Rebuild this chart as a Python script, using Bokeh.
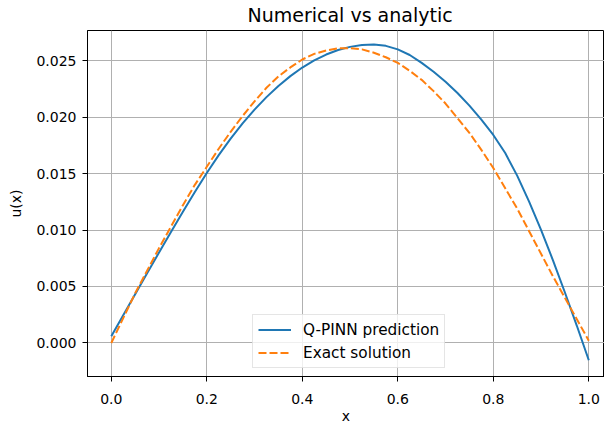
from bokeh.plotting import figure
from bokeh.models import FixedTicker, NumeralTickFormatter, Range1d, LinearAxis
from bokeh.embed import file_html
from bokeh.resources import INLINE

# ---- data ----
x_vals = [0.000, 0.025, 0.050, 0.075, 0.100, 0.125, 0.150, 0.175, 0.200, 0.225,
          0.250, 0.275, 0.300, 0.325, 0.350, 0.375, 0.400, 0.425, 0.450, 0.475,
          0.500, 0.525, 0.550, 0.575, 0.600, 0.625, 0.650, 0.675, 0.700, 0.725,
          0.750, 0.775, 0.800, 0.825, 0.850, 0.875, 0.900, 0.925, 0.950, 0.975, 1.000]
qpinn_pred = [0.00060, 0.00246, 0.00432, 0.00617, 0.00801, 0.00983, 0.01162, 0.01337, 0.01505, 0.01663,
              0.01809, 0.01944, 0.02066, 0.02177, 0.02276, 0.02363, 0.02439, 0.02502, 0.02554, 0.02594,
              0.02622, 0.02639, 0.02643, 0.02631, 0.02600, 0.02550, 0.02480, 0.02402, 0.02314, 0.02214,
              0.02102, 0.01977, 0.01842, 0.01682, 0.01482, 0.01252, 0.01002, 0.00732, 0.00447, 0.00152, -0.00153]
exact_sol = [0.0000, 0.0022, 0.0044, 0.0064, 0.0084, 0.0103, 0.0122, 0.0140, 0.0156, 0.0172,
             0.0187, 0.0201, 0.0214, 0.0226, 0.0236, 0.0244, 0.0251, 0.0256, 0.0259, 0.0261,
             0.0261, 0.0260, 0.0257, 0.0253, 0.0248, 0.0241, 0.0233, 0.0223, 0.0212, 0.0199,
             0.0186, 0.0171, 0.0155, 0.0137, 0.0119, 0.0099, 0.0079, 0.0059, 0.0040, 0.0021, 0.0002]
x_ticks = [0.0, 0.2, 0.4, 0.6, 0.8, 1.0]
y_ticks = [0.000, 0.005, 0.010, 0.015, 0.020, 0.025]
title_text = "Numerical vs analytic"
title_at = 0.5   # the title is centred over the middle of the axes

FONT = "DejaVu Sans"

p = figure(width=604, height=426, output_backend="svg", toolbar_location=None,
           x_range=Range1d(-0.0498, 1.0329), y_range=Range1d(-0.00297, 0.02767),
           min_border_left=87, min_border_right=0, min_border_top=28, min_border_bottom=50)

p.line(x_vals, qpinn_pred, line_color="#1f77b4", line_width=2, legend_label="Q-PINN prediction")
p.line(x_vals, exact_sol, line_color="#ff7f0e", line_width=2, line_dash="8 3", legend_label="Exact solution")

bottom_axis = p.below[0]
left_axis = p.left[0]

for ax in (bottom_axis, left_axis):
    ax.major_label_text_font = FONT
    ax.major_label_text_font_size = "14px"
    ax.major_label_text_color = "#000000"
    ax.axis_label_text_font = FONT
    ax.axis_label_text_font_size = "14px"
    ax.axis_label_text_font_style = "normal"
    ax.axis_label_text_color = "#000000"
    ax.major_tick_out = 5
    ax.major_tick_in = 0
    ax.minor_tick_out = 0
    ax.minor_tick_in = 0
    ax.axis_line_color = "#000000"
    ax.major_tick_line_color = "#000000"

bottom_axis.axis_label = "x"
left_axis.axis_label = "u(x)"
bottom_axis.major_label_standoff = 12
left_axis.major_label_standoff = 6
bottom_axis.axis_label_standoff = 1
left_axis.axis_label_standoff = 9
bottom_axis.ticker = FixedTicker(ticks=x_ticks)
left_axis.ticker = FixedTicker(ticks=y_ticks)
bottom_axis.formatter = NumeralTickFormatter(format="0.0")
left_axis.formatter = NumeralTickFormatter(format="0.000")

p.xgrid[0].ticker = FixedTicker(ticks=x_ticks)
p.ygrid[0].ticker = FixedTicker(ticks=y_ticks)
p.xgrid[0].grid_line_color = "#b0b0b0"
p.ygrid[0].grid_line_color = "#b0b0b0"
p.xgrid[0].grid_line_width = 1
p.ygrid[0].grid_line_width = 1
p.outline_line_color = "#000000"
p.outline_line_width = 1
p.background_fill_color = "#ffffff"
p.border_fill_color = "#ffffff"

# title drawn as the single label of an invisible axis above the frame
title_axis = LinearAxis(ticker=FixedTicker(ticks=[title_at]),
                        major_label_overrides={title_at: title_text})
title_axis.axis_line_color = None
title_axis.major_tick_line_color = None
title_axis.minor_tick_line_color = None
title_axis.major_tick_out = 0
title_axis.major_tick_in = 0
title_axis.minor_tick_out = 0
title_axis.minor_tick_in = 0
title_axis.major_label_standoff = 5
title_axis.major_label_text_font = FONT
title_axis.major_label_text_font_size = "19px"
title_axis.major_label_text_color = "#000000"
p.add_layout(title_axis, "above")

lg = p.legend[0]
lg.location = (165, 8)
lg.label_text_font = FONT
lg.label_text_font_size = "15.3px"
lg.label_text_color = "#000000"
lg.glyph_width = 33
lg.glyph_height = 19
lg.label_height = 19
lg.label_standoff = 12
lg.padding = 5
lg.spacing = 4
lg.margin = 0
lg.border_line_color = "#cccccc"
lg.border_line_width = 1
lg.background_fill_alpha = 0.8

open("out.html", "w").write(file_html(p, INLINE))
